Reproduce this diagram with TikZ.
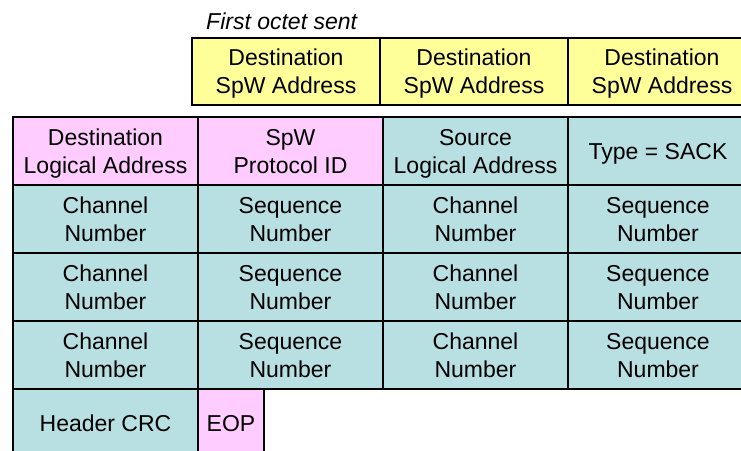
\documentclass[tikz,border=0pt]{standalone}
\usepackage{fontspec}
\setmainfont{Liberation Sans}
\definecolor{addrY}{HTML}{FFFF99}
\definecolor{hdrP}{HTML}{FFCCFF}
\definecolor{bodyT}{HTML}{B8DFE2}
\tikzset{
  cell/.style={draw=black, line width=1.3pt, inner sep=0pt, outer sep=0pt,
    align=center, anchor=north west, text=black, text depth=0pt,
    font=\fontsize{23}{28}\selectfont},
  ycell/.style={cell, fill=addrY, minimum width=188pt, minimum height=67pt},
  pcell/.style={cell, fill=hdrP, minimum width=185pt, minimum height=68pt},
  tcell/.style={cell, fill=bodyT, minimum width=185pt, minimum height=68pt},
}
\begin{document}
\begin{tikzpicture}[x=1pt, y=-1pt]
\useasboundingbox (0,0) rectangle (741,450);
\clip (0,0) rectangle (741,450);
\fill[white] (0,0) rectangle (741,450);

% caption above the address bytes
\node[anchor=base west, inner sep=0pt, font=\fontsize{23}{26}\selectfont\itshape] (cap) at (206,29) {First octet sent};

% destination SpaceWire address bytes
\node[ycell] (y1) at (192,38) {Destination\\SpW Address};
\node[ycell] (y2) at (380,38) {Destination\\SpW Address};
\node[ycell] (y3) at (568,38) {Destination\\SpW Address};

% header row
\node[pcell] (h1) at (13,117) {Destination\\Logical Address};
\node[pcell] (h2) at (198,117) {SpW\\Protocol ID};
\node[tcell] (h3) at (383,117) {Source\\Logical Address};
\node[tcell, minimum width=180pt] (h4) at (568,117) {Type = SACK};

% channel / sequence pairs
\foreach \r/\yy in {a/185, b/253, c/321} {
  \node[tcell] (\r1) at (13,\yy) {Channel\\Number};
  \node[tcell] (\r2) at (198,\yy) {Sequence\\Number};
  \node[tcell] (\r3) at (383,\yy) {Channel\\Number};
  \node[tcell, minimum width=180pt] (\r4) at (568,\yy) {Sequence\\Number};
}

% trailer
\node[tcell] (crc) at (13,389) {Header CRC};
\node[pcell, minimum width=66pt] (eop) at (198,389) {EOP};
\end{tikzpicture}
\end{document}
